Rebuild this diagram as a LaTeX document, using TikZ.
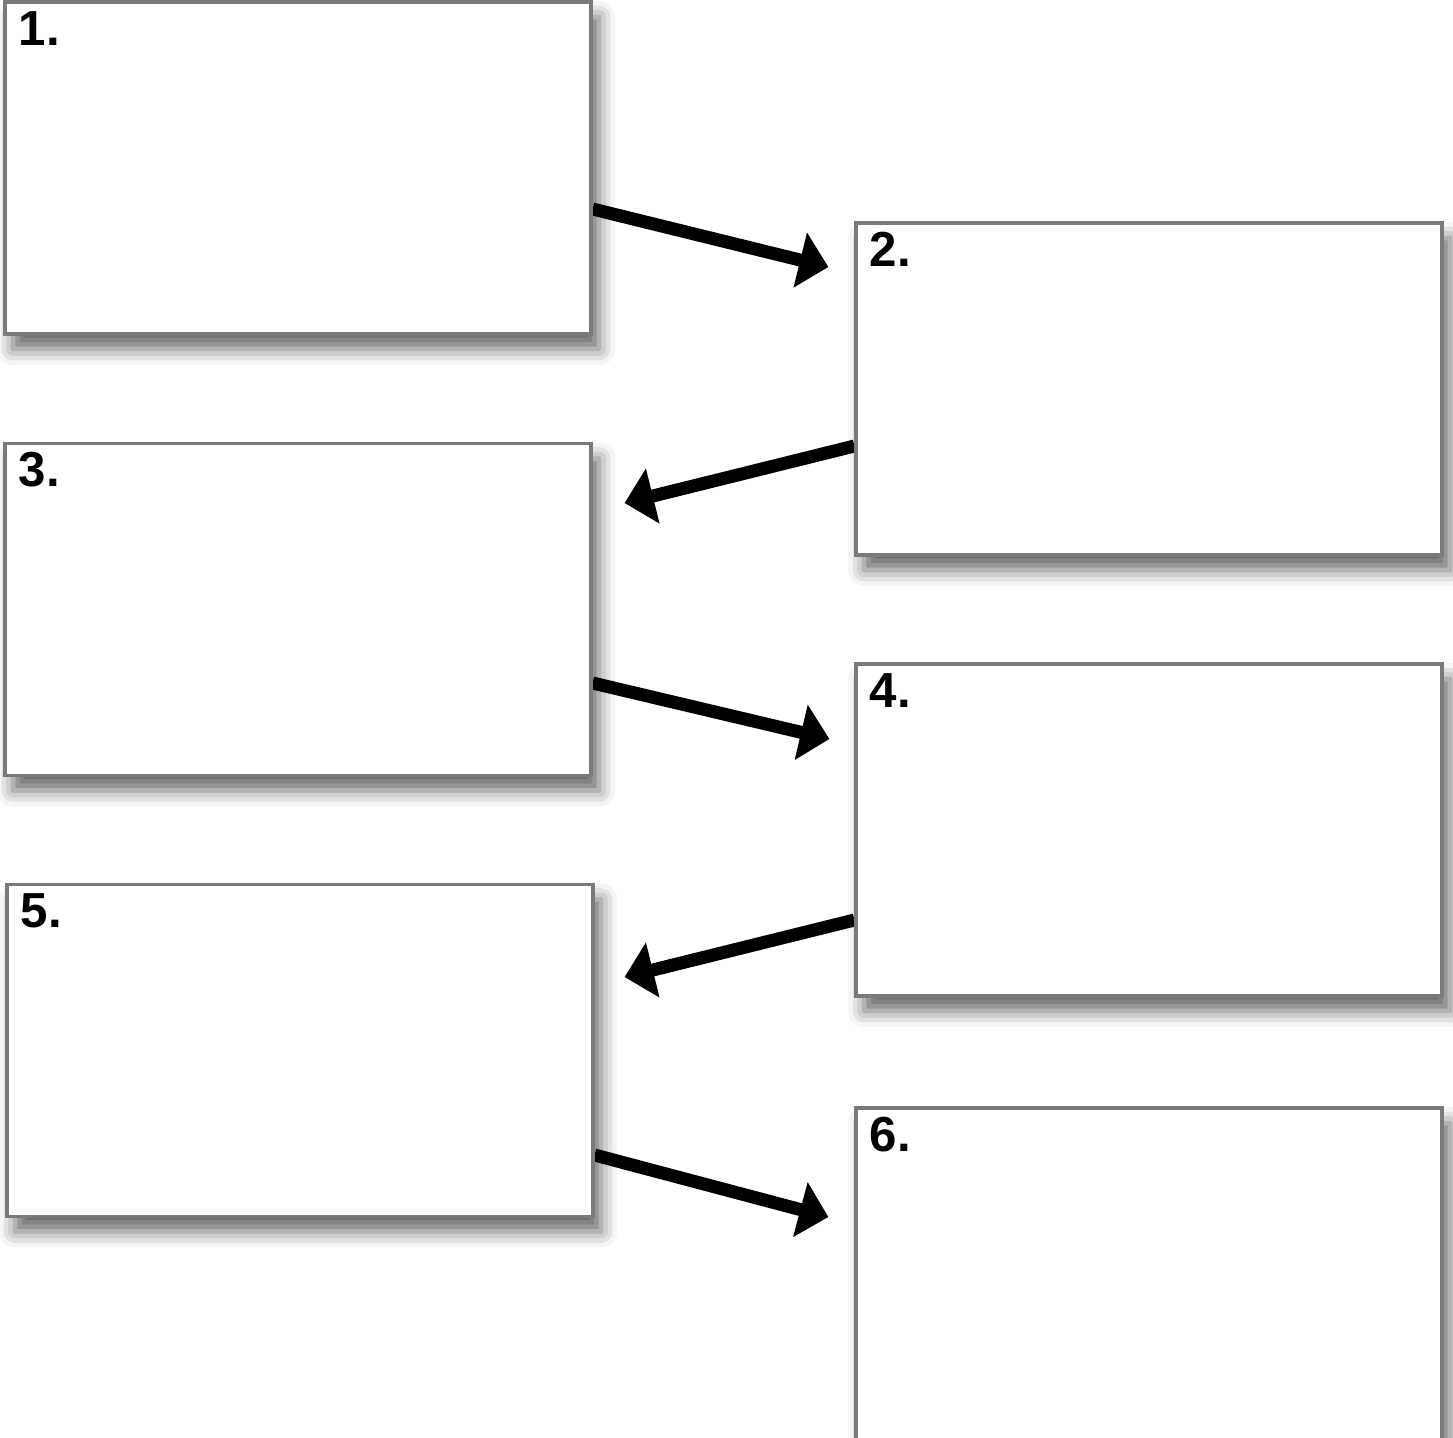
\documentclass[tikz,border=0pt]{standalone}
\usepackage{fontspec}
\setmainfont{Liberation Sans}
\usetikzlibrary{arrows.meta}
\usetikzlibrary{backgrounds}
\usetikzlibrary{shadows.blur}

\begin{document}
\begin{tikzpicture}[
        stepbox/.style={draw=black!52, line width=1.8pt, fill=white, rectangle,
            minimum width=11.72cm, minimum height=6.64cm, inner sep=0pt,
            blur shadow={shadow xshift=0.16cm, shadow yshift=-0.3cm,
                shadow blur radius=0.32cm, shadow opacity=60}},
        steplabel/.style={anchor=base west, inner sep=0pt,
            font=\fontsize{28}{32}\selectfont\bfseries},
        flow/.style={line width=0.26cm, -{Triangle[length=0.58cm, width=1.1cm]}}
    ]
            \useasboundingbox (0,0) rectangle (29.06,-28.74);

            \node (b1) at (5.96,-3.36) [stepbox] {};
            \node (b2) at (22.98,-7.78) [stepbox] {};
            \node (b3) at (5.96,-12.19) [stepbox] {};
            \node (b4) at (22.98,-16.60) [stepbox] {};
            \node (b5) at (6.00,-21.01) [stepbox] {};
            \node (b6) at (22.98,-25.48) [stepbox] {};

            \node (l1) at ([xshift=0.3cm, yshift=-0.9cm]b1.north west) [steplabel] {1.};
            \node (l2) at ([xshift=0.3cm, yshift=-0.9cm]b2.north west) [steplabel] {2.};
            \node (l3) at ([xshift=0.3cm, yshift=-0.9cm]b3.north west) [steplabel] {3.};
            \node (l4) at ([xshift=0.3cm, yshift=-0.9cm]b4.north west) [steplabel] {4.};
            \node (l5) at ([xshift=0.3cm, yshift=-0.9cm]b5.north west) [steplabel] {5.};
            \node (l6) at ([xshift=0.3cm, yshift=-0.9cm]b6.north west) [steplabel] {6.};

            \begin{scope}[on background layer]
                \draw[flow] ([yshift=-0.82cm]b1.east) -- ([xshift=-0.52cm, yshift=2.44cm]b2.west);
                \draw[flow] ([yshift=-1.14cm]b2.west) -- ([xshift=0.64cm, yshift=2.13cm]b3.east);
                \draw[flow] ([yshift=-1.47cm]b3.east) -- ([xshift=-0.50cm, yshift=1.82cm]b4.west);
                \draw[flow] ([yshift=-1.80cm]b4.west) -- ([xshift=0.60cm, yshift=1.47cm]b5.east);
                \draw[flow] ([yshift=-2.09cm]b5.east) -- ([xshift=-0.52cm, yshift=1.14cm]b6.west);
            \end{scope}
        \end{tikzpicture}
\end{document}
